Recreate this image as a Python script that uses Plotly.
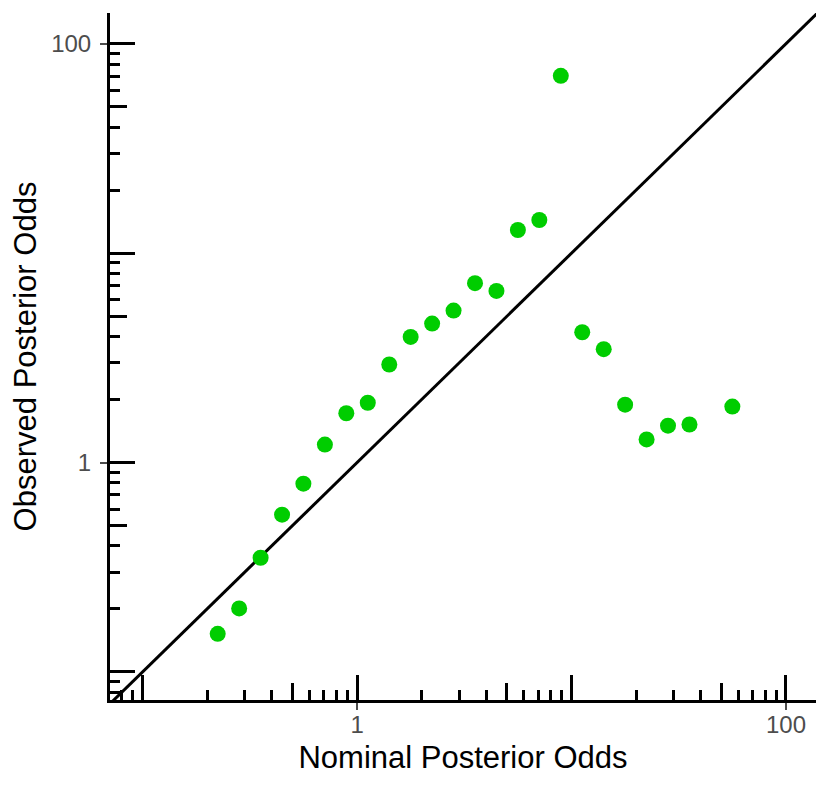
import plotly.graph_objects as go

# nominal vs observed posterior odds (log bins)
nominal = [0.224, 0.282, 0.355, 0.447, 0.562, 0.708, 0.891, 1.122, 1.413, 1.778,
           2.239, 2.818, 3.548, 4.467, 5.623, 7.079, 8.913, 11.22, 14.13, 17.78,
           22.39, 28.18, 35.48, 56.23]
observed = [0.152, 0.201, 0.351, 0.564, 0.793, 1.218, 1.72, 1.93, 2.94, 3.98,
            4.61, 5.32, 7.19, 6.60, 12.9, 14.4, 70.3, 4.19, 3.48, 1.89,
            1.29, 1.50, 1.52, 1.85]
diag = [0.01, 1000]

label_ticks = [1, 100]
label_text = ["1", "100"]
decades = [0.01, 0.1, 1, 10, 100, 1000]
fives = [0.05, 0.5, 5, 50, 500]
minors = [k * d for d in decades for k in (2, 3, 4, 6, 7, 8, 9)]

xr = [-1.152, 2.140]
yr = [-1.134, 2.147]
FONT = "Liberation Sans"

fig = go.Figure()
fig.add_trace(go.Scatter(x=diag, y=diag, mode="lines",
                         line=dict(color="black", width=3), hoverinfo="skip"))
fig.add_trace(go.Scatter(x=nominal, y=observed, mode="markers",
                         marker=dict(color="#00CD00", size=16)))

# invisible traces so the overlay tick axes get drawn
for xa, ya in [("x2", "y"), ("x3", "y"), ("x", "y2"), ("x", "y3")]:
    fig.add_trace(go.Scatter(x=diag, y=diag, xaxis=xa, yaxis=ya, mode="lines",
                             opacity=0, hoverinfo="skip"))


def main_axis(rng, title, standoff, label_off):
    return dict(
        type="log", range=rng, showgrid=False, zeroline=False, automargin=False,
        showline=True, linecolor="black", linewidth=3,
        tickmode="array", tickvals=label_ticks, ticktext=label_text,
        ticks="outside", ticklen=7, tickwidth=2, tickcolor="#4D4D4D",
        ticklabelstandoff=label_off,
        tickfont=dict(family=FONT, size=24, color="#4D4D4D"),
        minor=dict(tickmode="array", tickvals=minors, ticks="inside",
                   ticklen=10, tickwidth=2.5, tickcolor="black", showgrid=False),
        title=dict(text=title, font=dict(family=FONT, size=31, color="black"),
                   standoff=standoff),
    )


def tick_axis(rng, vals, length, over, anchor):
    return dict(
        type="log", range=rng, overlaying=over, anchor=anchor, automargin=False,
        showgrid=False, zeroline=False, showline=False,
        tickmode="array", tickvals=vals, showticklabels=False,
        ticks="inside", ticklen=length, tickwidth=2.5, tickcolor="black",
    )


# page body has an 8px margin, so the margins are offset by it
fig.update_layout(
    width=830, height=788,
    margin=dict(l=102, r=22, t=5, b=96),
    plot_bgcolor="white", paper_bgcolor="white",
    showlegend=False,
    xaxis=main_axis(xr, "Nominal Posterior Odds", 10, -6),
    yaxis=main_axis(yr, "Observed Posterior Odds", 10, 4),
    xaxis2=tick_axis(xr, decades, 25, "x", "y"),
    xaxis3=tick_axis(xr, fives, 17, "x", "y"),
    yaxis2=tick_axis(yr, decades, 25, "y", "x"),
    yaxis3=tick_axis(yr, fives, 17, "y", "x"),
)

fig.write_html("out.html")
